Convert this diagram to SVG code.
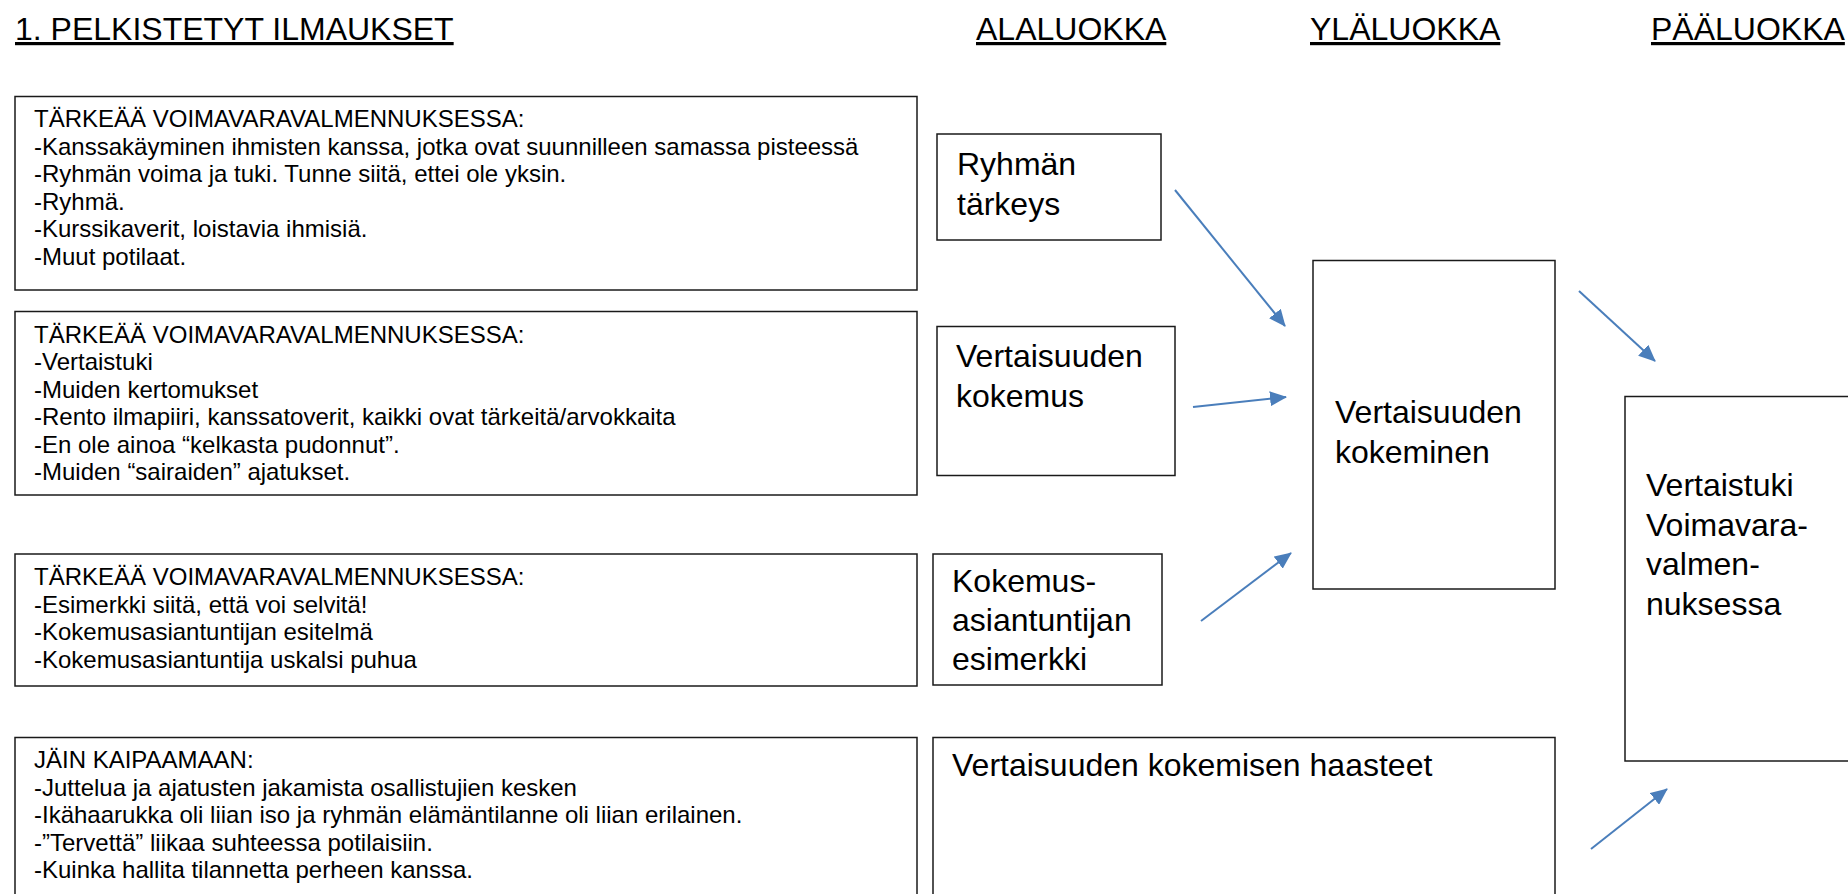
<svg xmlns="http://www.w3.org/2000/svg" width="1848" height="894" viewBox="0 0 1848 894">
<style>
.box{fill:#fff;stroke:#1a1a1a;stroke-width:1.5}
.t{font-family:"Liberation Sans",Arial,sans-serif;fill:#000}
.body{font-size:24px}
.lbl{font-size:32px}
.hdr{font-size:32px;text-decoration:underline}
.conn{stroke:#4A7EBB;stroke-width:2;fill:none;marker-end:url(#ah)}
</style>
<defs>
<marker id="ah" markerUnits="userSpaceOnUse" markerWidth="17" markerHeight="15" refX="16" refY="7.5" orient="auto" viewBox="0 0 17 15">
<path d="M0,0 L17,7.5 L0,15 z" fill="#4A7EBB"/>
</marker>
</defs>
<rect width="1848" height="894" fill="#fff"/>

<g id="headers">
<text class="t hdr" x="15" y="40">1. PELKISTETYT ILMAUKSET</text>
<text class="t hdr" x="976" y="40">ALALUOKKA</text>
<text class="t hdr" x="1310" y="40">YLÄLUOKKA</text>
<text class="t hdr" x="1651" y="40">PÄÄLUOKKA</text>
</g>

<g id="expr1">
<rect class="box" x="15" y="96.5" width="902" height="193.5"/>
<text class="t body">
<tspan x="34" y="127">TÄRKEÄÄ VOIMAVARAVALMENNUKSESSA:</tspan>
<tspan x="34" y="154.5">-Kanssakäyminen ihmisten kanssa, jotka ovat suunnilleen samassa pisteessä</tspan>
<tspan x="34" y="182">-Ryhmän voima ja tuki. Tunne siitä, ettei ole yksin.</tspan>
<tspan x="34" y="209.5">-Ryhmä.</tspan>
<tspan x="34" y="237">-Kurssikaverit, loistavia ihmisiä.</tspan>
<tspan x="34" y="264.5">-Muut potilaat.</tspan>
</text>
</g>

<g id="expr2">
<rect class="box" x="15" y="311.5" width="902" height="183.5"/>
<text class="t body">
<tspan x="34" y="342.5">TÄRKEÄÄ VOIMAVARAVALMENNUKSESSA:</tspan>
<tspan x="34" y="370">-Vertaistuki</tspan>
<tspan x="34" y="397.5">-Muiden kertomukset</tspan>
<tspan x="34" y="425">-Rento ilmapiiri, kanssatoverit, kaikki ovat tärkeitä/arvokkaita</tspan>
<tspan x="34" y="452.5">-En ole ainoa “kelkasta pudonnut”.</tspan>
<tspan x="34" y="480">-Muiden “sairaiden” ajatukset.</tspan>
</text>
</g>

<g id="expr3">
<rect class="box" x="15" y="554" width="902" height="132"/>
<text class="t body">
<tspan x="34" y="585">TÄRKEÄÄ VOIMAVARAVALMENNUKSESSA:</tspan>
<tspan x="34" y="612.5">-Esimerkki siitä, että voi selvitä!</tspan>
<tspan x="34" y="640">-Kokemusasiantuntijan esitelmä</tspan>
<tspan x="34" y="667.5">-Kokemusasiantuntija uskalsi puhua</tspan>
</text>
</g>

<g id="expr4">
<rect class="box" x="15" y="737.5" width="902" height="170"/>
<text class="t body">
<tspan x="34" y="768">JÄIN KAIPAAMAAN:</tspan>
<tspan x="34" y="795.5">-Juttelua ja ajatusten jakamista osallistujien kesken</tspan>
<tspan x="34" y="823">-Ikähaarukka oli liian iso ja ryhmän elämäntilanne oli liian erilainen.</tspan>
<tspan x="34" y="850.5">-”Tervettä” liikaa suhteessa potilaisiin.</tspan>
<tspan x="34" y="878">-Kuinka hallita tilannetta perheen kanssa.</tspan>
</text>
</g>

<g id="sub1">
<rect class="box" x="937" y="134" width="224" height="106"/>
<text class="t lbl"><tspan x="957" y="175">Ryhmän</tspan><tspan x="957" y="215">tärkeys</tspan></text>
</g>

<g id="sub2">
<rect class="box" x="937" y="326.5" width="238" height="149"/>
<text class="t lbl"><tspan x="956" y="367">Vertaisuuden</tspan><tspan x="956" y="407">kokemus</tspan></text>
</g>

<g id="sub3">
<rect class="box" x="933" y="554" width="229" height="131"/>
<text class="t lbl"><tspan x="952" y="592">Kokemus-</tspan><tspan x="952" y="631">asiantuntijan</tspan><tspan x="952" y="670">esimerkki</tspan></text>
</g>

<g id="sub4">
<rect class="box" x="933" y="737.5" width="622" height="170"/>
<text class="t lbl" x="952" y="776">Vertaisuuden kokemisen haasteet</text>
</g>

<g id="upper">
<rect class="box" x="1313" y="260.5" width="242" height="328.5"/>
<text class="t lbl"><tspan x="1335" y="423">Vertaisuuden</tspan><tspan x="1335" y="463">kokeminen</tspan></text>
</g>

<g id="main">
<rect class="box" x="1625" y="396.5" width="240" height="364.5"/>
<text class="t lbl"><tspan x="1646" y="496">Vertaistuki</tspan><tspan x="1646" y="535.5">Voimavara-</tspan><tspan x="1646" y="575">valmen-</tspan><tspan x="1646" y="614.5">nuksessa</tspan></text>
</g>

<g id="connectors">
<line class="conn" x1="1175" y1="190" x2="1285" y2="326"/>
<line class="conn" x1="1193" y1="407" x2="1286" y2="397"/>
<line class="conn" x1="1201" y1="621" x2="1291" y2="553"/>
<line class="conn" x1="1579" y1="291" x2="1655" y2="361"/>
<line class="conn" x1="1591" y1="849" x2="1667" y2="789"/>
</g>
</svg>
